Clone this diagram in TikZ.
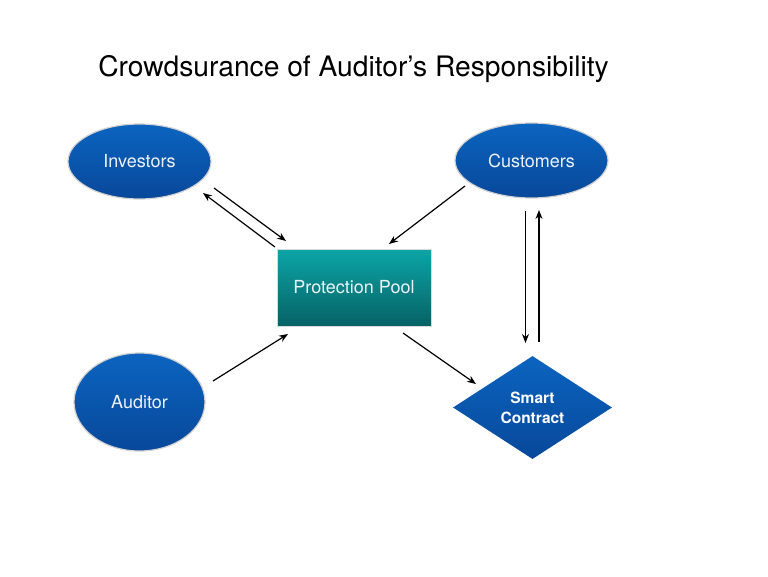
\documentclass[tikz,border=0pt]{standalone}
\usepackage{fontspec}
\setmainfont{TeX Gyre Heros}
\usetikzlibrary{shapes.geometric,arrows.meta}
\definecolor{bluetop}{HTML}{0B64C0}
\definecolor{bluebot}{HTML}{08489A}
\definecolor{tealtop}{HTML}{0CA5A7}
\definecolor{tealbot}{HTML}{066265}
\definecolor{lbltext}{HTML}{EEF2F7}
\tikzset{
  oval/.style={ellipse, inner sep=0pt, top color=bluetop, bottom color=bluebot,
    draw=black!18, line width=1.2pt, text=lbltext, font=\fontsize{18}{21}\selectfont},
  poolbox/.style={rectangle, inner sep=0pt, top color=tealtop, bottom color=tealbot,
    draw=black!15, line width=1pt, minimum width=154pt, minimum height=77pt,
    text=lbltext, font=\fontsize{18}{21}\selectfont},
  decide/.style={diamond, inner sep=0pt, top color=bluetop, bottom color=bluebot,
    minimum width=159pt, minimum height=103pt, text=white, align=center,
    font=\fontsize{15.5}{20}\selectfont\bfseries},
  conn/.style={line width=1.2pt, -{Stealth[length=9pt,width=7pt]}}
}
\begin{document}
\begin{tikzpicture}[x=1pt,y=-1pt]
\useasboundingbox (0,0) rectangle (768,576);
\node[anchor=base, font=\fontsize{28.2}{34}\selectfont] (title) at (353.5,76) {Crowdsurance of Auditor’s Responsibility};
\node[oval, minimum width=143pt, minimum height=75pt] (inv) at (139.5,161.5) {Investors};
\node[oval, minimum width=153pt, minimum height=75pt] (cus) at (531.5,160.5) {Customers};
\node[oval, minimum width=131pt, minimum height=98pt] (aud) at (139.5,402) {Auditor};
\node[poolbox] (pool) at (354,287.5) {Protection Pool};
\node[decide] (sc) at (532.5,407.5) {Smart\\Contract};
% connector end points
\coordinate (a1) at (214,188); \coordinate (a2) at (286,241);
\coordinate (b1) at (275,247); \coordinate (b2) at (203,193);
\coordinate (c1) at (465,186); \coordinate (c2) at (389,244);
\coordinate (d1) at (525.5,211); \coordinate (d2) at (525.5,343);
\coordinate (e1) at (539,342); \coordinate (e2) at (539,210);
\coordinate (f1) at (213,381); \coordinate (f2) at (288,334);
\coordinate (g1) at (403,333); \coordinate (g2) at (476,384);
\draw[conn] (a1) -- (a2);
\draw[conn] (b1) -- (b2);
\draw[conn] (c1) -- (c2);
\draw[conn] (d1) -- (d2);
\draw[conn] (e1) -- (e2);
\draw[conn] (f1) -- (f2);
\draw[conn] (g1) -- (g2);
\end{tikzpicture}
\end{document}
